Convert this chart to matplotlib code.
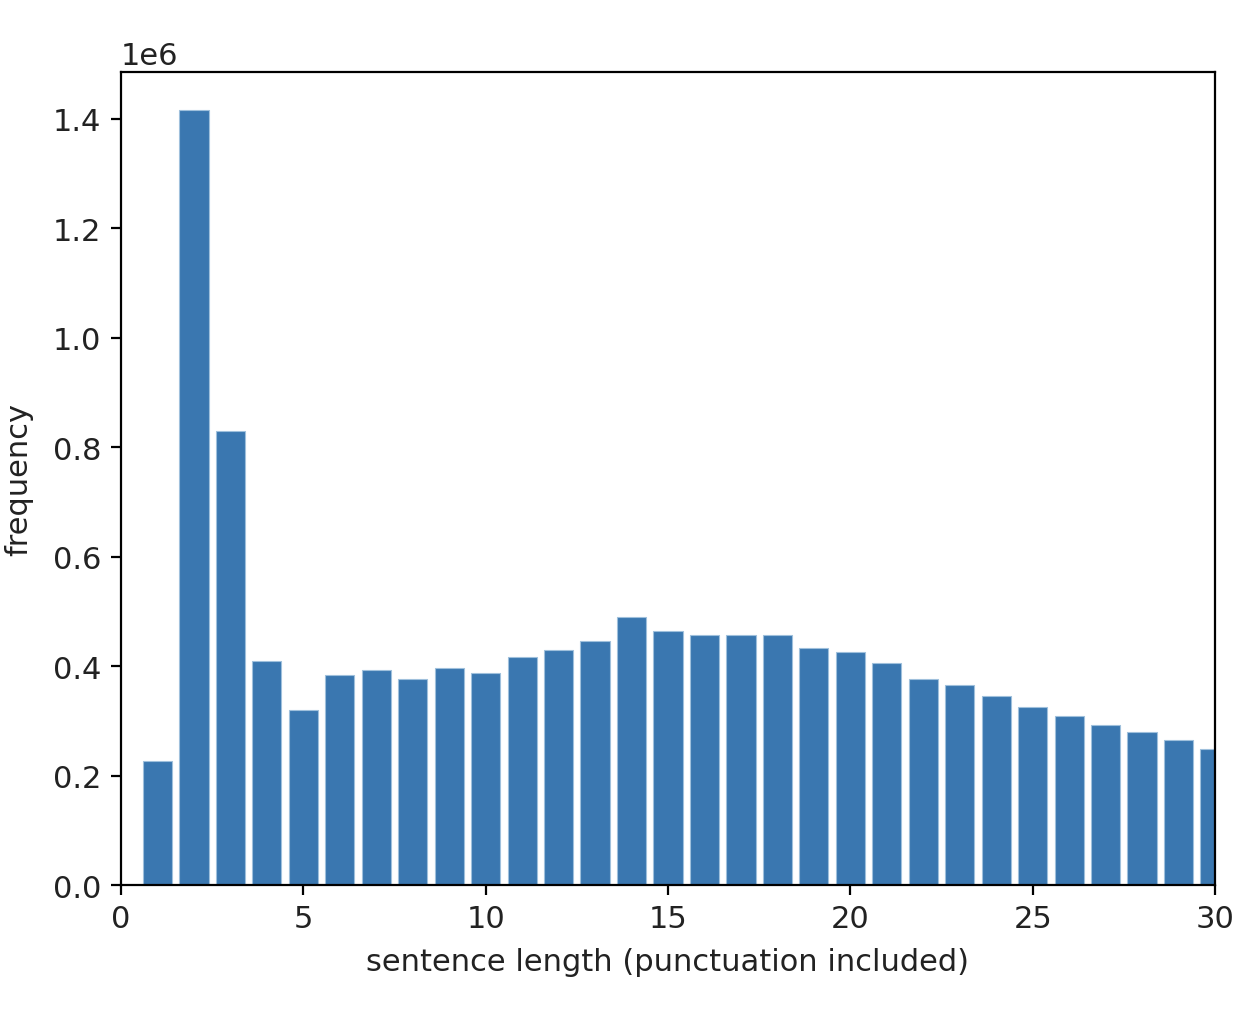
import numpy as np
import matplotlib
matplotlib.use('Agg')
import matplotlib.pyplot as plt

# sentence lengths 1..30 and how often each occurs
lengths = np.arange(1, 31)
freq = [0.226, 1.416, 0.830, 0.409, 0.319, 0.383, 0.392, 0.376, 0.396, 0.387,
        0.416, 0.429, 0.445, 0.489, 0.464, 0.456, 0.456, 0.456, 0.433, 0.425,
        0.405, 0.376, 0.365, 0.345, 0.325, 0.308, 0.292, 0.279, 0.265, 0.248]
freq = np.array(freq) * 1e6

plt.rcParams['font.size'] = 11
plt.rcParams['text.color'] = '#222222'
plt.rcParams['axes.labelcolor'] = '#222222'
plt.rcParams['xtick.labelcolor'] = '#222222'
plt.rcParams['ytick.labelcolor'] = '#222222'

fig = plt.figure(figsize=(6.24, 5.06), dpi=200)
ax = fig.add_axes([121 / 1248, 1 - 886 / 1012, (1215 - 121) / 1248, (886 - 73) / 1012])

ax.bar(lengths, freq, width=0.8, color='#3a77b0', edgecolor='#9fc0dc', linewidth=0.4)
ax.set_xlim(0, 30)
ax.set_ylim(0, 1.485e6)
ax.set_xticks([0, 5, 10, 15, 20, 25, 30])
ax.set_xlabel('sentence length (punctuation included)', labelpad=5)
ax.set_ylabel('frequency', labelpad=7)

plt.savefig('out.png', dpi=200)
